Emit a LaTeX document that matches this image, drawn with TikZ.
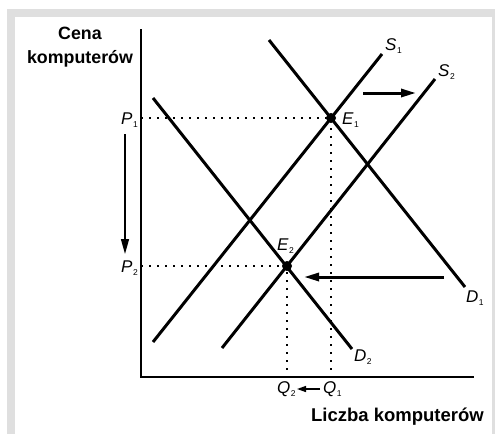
\documentclass[tikz,border=0pt]{standalone}
\usepackage{fontspec}
\setmainfont{Liberation Sans}
\usetikzlibrary{arrows.meta}
\definecolor{framegray}{HTML}{DFDFDF}
\newcommand{\lab}[2]{{\fontsize{17}{17}\selectfont\itshape #1}\kern0.5pt{\fontsize{8.5}{8.5}\selectfont\raisebox{-3pt}{#2}}}
\tikzset{
  curve/.style={line width=3pt},
  axis/.style={line width=1.8pt},
  guide/.style={line width=1.6pt, dash pattern=on 1.6pt off 6.4pt},
  shiftarrow/.style={line width=3pt, -{Triangle[length=15pt,width=8pt]}},
  thinarrow/.style={line width=1.4pt, -{Triangle[length=15pt,width=8pt]}},
  smallarrow/.style={line width=1.4pt, -{Triangle[length=9pt,width=6pt]}},
  lbl/.style={inner sep=0pt, anchor=base west},
  title/.style={inner sep=0pt, font=\fontsize{17.8}{17.8}\selectfont\bfseries},
  eqdot/.style={circle, fill=black, inner sep=0pt, minimum size=10pt}
}
\begin{document}
\begin{tikzpicture}[x=1pt,y=-1pt]
\useasboundingbox (0,0) rectangle (495,434);
\fill[white] (0,0) rectangle (495,434);
\fill[framegray] (7,9) rectangle (495,434);
\fill[white] (15,17) rectangle (492,434);
% axes
\coordinate (ytop) at (141,29);
\coordinate (origin) at (141,377);
\coordinate (xend) at (474,377);
\draw[axis] (ytop) -- (origin) -- (xend);
% equilibrium points
\node[eqdot] (E1) at (331,118) {};
\node[eqdot] (E2) at (287,266) {};
% guides
\coordinate (p1) at (141,118);
\coordinate (p2) at (141,266);
\coordinate (q1) at (331,377);
\coordinate (q2) at (287,377);
\draw[guide] (p1) -- (E1.center) -- (q1);
\draw[guide] (p2) -- (E2.center) -- (q2);
% curves
\coordinate (d1a) at (269,40);  \coordinate (d1b) at (465,287);
\coordinate (d2a) at (153,98);  \coordinate (d2b) at (352,349);
\coordinate (s1a) at (153,342); \coordinate (s1b) at (382,54);
\coordinate (s2a) at (222,348); \coordinate (s2b) at (435,79);
\draw[curve] (d1a) -- (d1b);
\draw[curve] (d2a) -- (d2b);
\draw[curve] (s1a) -- (s1b);
\draw[curve] (s2a) -- (s2b);
% arrows
\coordinate (ra) at (363,93);  \coordinate (rb) at (416,93);
\coordinate (la) at (444,277); \coordinate (lb) at (304,277);
\coordinate (da) at (125,134); \coordinate (db) at (125,254);
\coordinate (qa) at (320,389); \coordinate (qb) at (297,389);
\draw[shiftarrow] (ra) -- (rb);
\draw[shiftarrow] (la) -- (lb);
\draw[thinarrow] (da) -- (db);
\draw[smallarrow] (qa) -- (qb);
% labels
\node[lbl] (S1) at (385,50) {\lab{S}{1}};
\node[lbl] (S2) at (438,76) {\lab{S}{2}};
\node[lbl] (E1l) at (342,124) {\lab{E}{1}};
\node[lbl] (E2l) at (277,250) {\lab{E}{2}};
\node[lbl] (D1) at (466,302) {\lab{D}{1}};
\node[lbl] (D2) at (354,361) {\lab{D}{2}};
\node[lbl] (Q2) at (277,393) {\lab{Q}{2}};
\node[lbl] (Q1) at (323,393) {\lab{Q}{1}};
\node[inner sep=0pt, anchor=base east] (P1) at (138,124) {\lab{P}{1}};
\node[inner sep=0pt, anchor=base east] (P2) at (138,272) {\lab{P}{2}};
\node[title, anchor=base] (cena) at (80,39) {Cena};
\node[title, anchor=base] (komp) at (80,63) {komputerów};
\node[title, anchor=base east, font=\fontsize{18.5}{18.5}\selectfont\bfseries] (liczba) at (484,421) {Liczba komputerów};
\end{tikzpicture}
\end{document}
